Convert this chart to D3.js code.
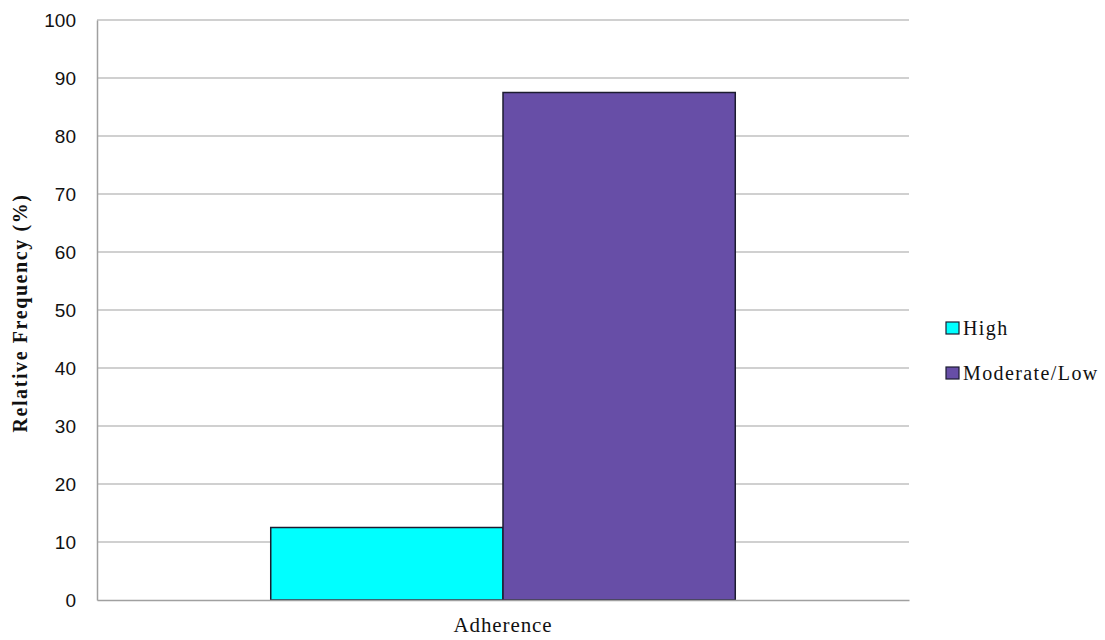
<!DOCTYPE html>
<html>
<head>
<meta charset="utf-8">
<script src="https://cdn.jsdelivr.net/npm/d3@7"></script>
<style>
  body { margin: 0; background: #fff; }
  svg { display: block; }
</style>
</head>
<body>
<svg id="chart"></svg>
<script>
// Chart data
const categories = ['Adherence'];
const seriesNames = ['High', 'Moderate/Low'];
const seriesValues = [12.5, 87.5];
const seriesColors = ['#00FFFF', '#674EA7'];
const yTicks = [0, 10, 20, 30, 40, 50, 60, 70, 80, 90, 100];

const width = 1105, height = 640;
const margin = { top: 20, right: 196, bottom: 40, left: 97 };
const innerWidth = width - margin.left - margin.right;
const innerHeight = height - margin.top - margin.bottom;

const serif = '"Liberation Serif", "Times New Roman", serif';

const svg = d3.select('#chart')
    .attr('width', width)
    .attr('height', height);

const g = svg.append('g')
    .attr('transform', `translate(${margin.left}, ${margin.top})`);

// Scales
const x0 = d3.scaleBand()
    .domain(categories)
    .range([0, innerWidth])
    .paddingInner(0)
    .paddingOuter(0.374);

const x1 = d3.scaleBand()
    .domain(seriesNames)
    .range([0, x0.bandwidth()]);

const y = d3.scaleLinear()
    .domain([0, 100])
    .range([innerHeight, 0]);

const color = d3.scaleOrdinal()
    .domain(seriesNames)
    .range(seriesColors);

// Gridlines
g.append('g')
    .selectAll('line')
    .data(yTicks.filter(d => d > 0))
    .enter()
    .append('line')
    .attr('x1', 0)
    .attr('x2', innerWidth)
    .attr('y1', d => y(d))
    .attr('y2', d => y(d))
    .attr('stroke', '#c0c0c0')
    .attr('stroke-width', 1.5);

// Y axis
const yAxis = d3.axisLeft(y)
    .tickValues(yTicks)
    .tickSize(0)
    .tickPadding(21);

const yAxisG = g.append('g').call(yAxis);
yAxisG.select('.domain').attr('stroke', '#a0a0a0').attr('stroke-width', 1.5);
yAxisG.selectAll('text')
    .attr('fill', '#111')
    .style('font-family', '"Liberation Sans", Arial, sans-serif')
    .style('font-size', '19px');

// Bars
const barData = seriesNames.map((name, i) => ({ category: categories[0], name: name, value: seriesValues[i] }));

g.append('g')
    .selectAll('rect')
    .data(barData)
    .enter()
    .append('rect')
    .attr('x', d => x0(d.category) + x1(d.name))
    .attr('width', x1.bandwidth())
    .attr('y', d => y(d.value))
    .attr('height', d => y(0) - y(d.value))
    .attr('fill', d => color(d.name))
    .attr('stroke', '#1c1c30')
    .attr('stroke-width', 1.5);

// X axis
const xAxis = d3.axisBottom(x0)
    .tickSize(0)
    .tickPadding(17);

const xAxisG = g.append('g')
    .attr('transform', `translate(0, ${innerHeight})`)
    .call(xAxis);
xAxisG.select('.domain').attr('stroke', '#a0a0a0').attr('stroke-width', 1.5);
xAxisG.selectAll('text')
    .attr('fill', '#111')
    .style('font-family', serif)
    .style('font-size', '21px')
    .style('letter-spacing', '0.9px');

// Y axis label
svg.append('text')
    .attr('transform', `translate(27, ${margin.top + innerHeight / 2 + 3}) rotate(-90)`)
    .attr('text-anchor', 'middle')
    .style('font-family', serif)
    .style('font-size', '20px')
    .style('font-weight', 'bold')
    .style('letter-spacing', '1.6px')
    .attr('fill', '#111')
    .text('Relative Frequency (%)');

// Legend
const legend = svg.append('g')
    .attr('transform', 'translate(946, 322)');

const items = legend.selectAll('g')
    .data(seriesNames)
    .enter()
    .append('g')
    .attr('transform', (d, i) => `translate(0, ${i * 45})`);

items.append('rect')
    .attr('width', 13)
    .attr('height', 12)
    .attr('fill', d => color(d))
    .attr('stroke', '#1c1c30')
    .attr('stroke-width', 1.2);

items.append('text')
    .attr('x', 17)
    .attr('y', 13)
    .style('font-family', serif)
    .style('font-size', '20px')
    .style('letter-spacing', '1.4px')
    .attr('fill', '#111')
    .text(d => d);
</script>
</body>
</html>
